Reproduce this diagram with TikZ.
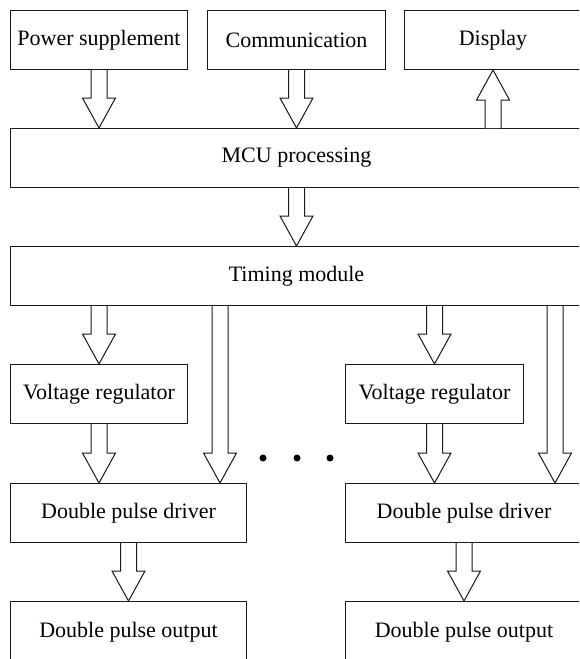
\documentclass[tikz,border=0pt]{standalone}
\usepackage{fontspec}
\setmainfont{Liberation Serif}
\usetikzlibrary{calc}

% hollow block arrows: #1 = tail point, #2 = tip point (same x)
\newcommand\arrdown[2]{%
  \draw[fat] ($#1+(-8,0)$) -- ($#2+(-8,-30)$) -- ($#2+(-16.5,-30)$) -- #2
    -- ($#2+(16.5,-30)$) -- ($#2+(8,-30)$) -- ($#1+(8,0)$);}
\newcommand\arrup[2]{%
  \draw[fat] ($#1+(-8,0)$) -- ($#2+(-8,30)$) -- ($#2+(-16.5,30)$) -- #2
    -- ($#2+(16.5,30)$) -- ($#2+(8,30)$) -- ($#1+(8,0)$);}

\begin{document}
\begin{tikzpicture}[x=1pt,y=-1pt,
  box/.style={draw=black!90, line width=1pt, rectangle, inner sep=0pt,
    anchor=north west, minimum height=59pt,
    font=\fontsize{22}{26}\selectfont},
  fat/.style={draw=black!90, line width=1pt, line join=miter, fill=white},
  dot/.style={fill=black, circle, inner sep=0pt, minimum size=7pt}]
\useasboundingbox (0,0) rectangle (579,659);
\clip (0,0) rectangle (579,659);

% top row
\node[box, minimum width=177pt] (ps) at (10,10) {Power supplement};
\node[box, minimum width=178pt] (cm) at (207,10) {Communication};
\node[box, minimum width=177pt] (dp) at (404,10) {Display};

% central blocks
\node[box, minimum width=572pt] (mcu) at (10,128) {MCU processing};
\node[box, minimum width=572pt] (tm) at (10,246) {Timing module};

% channel blocks
\node[box, minimum width=177pt] (vrL) at (10,364) {Voltage regulator};
\node[box, minimum width=178pt] (vrR) at (345,364) {Voltage regulator};
\node[box, minimum width=236pt] (dpdL) at (10,483) {Double pulse driver};
\node[box, minimum width=237pt] (dpdR) at (345,483) {Double pulse driver};
\node[box, minimum width=236pt, minimum height=62pt] (outL) at (10,601) {Double pulse output};
\node[box, minimum width=237pt, minimum height=62pt] (outR) at (345,601) {Double pulse output};

% x positions of the direct timing lines
\coordinate (xl) at (220,0);
\coordinate (xr) at (555,0);

% arrows
\arrdown{(ps.south)}{(ps.south |- mcu.north)}
\arrdown{(cm.south)}{(cm.south |- mcu.north)}
\arrup{(dp.south |- mcu.north)}{(dp.south)}
\arrdown{(mcu.south -| cm.south)}{(cm.south |- tm.north)}

\arrdown{(vrL.north |- tm.south)}{(vrL.north)}
\arrdown{(tm.south -| xl)}{(dpdL.north -| xl)}
\arrdown{(vrL.south)}{(vrL.south |- dpdL.north)}
\arrdown{(dpdL.south)}{(outL.north)}

\arrdown{(vrR.north |- tm.south)}{(vrR.north)}
\arrdown{(tm.south -| xr)}{(dpdR.north -| xr)}
\arrdown{(vrR.south)}{(vrR.south |- dpdR.north)}
\arrdown{(dpdR.south)}{(dpdR.south |- outR.north)}

% ellipsis between channels
\node[dot] (d1) at (263,458) {};
\node[dot] (d2) at (297,458) {};
\node[dot] (d3) at (330,458) {};
\end{tikzpicture}
\end{document}
